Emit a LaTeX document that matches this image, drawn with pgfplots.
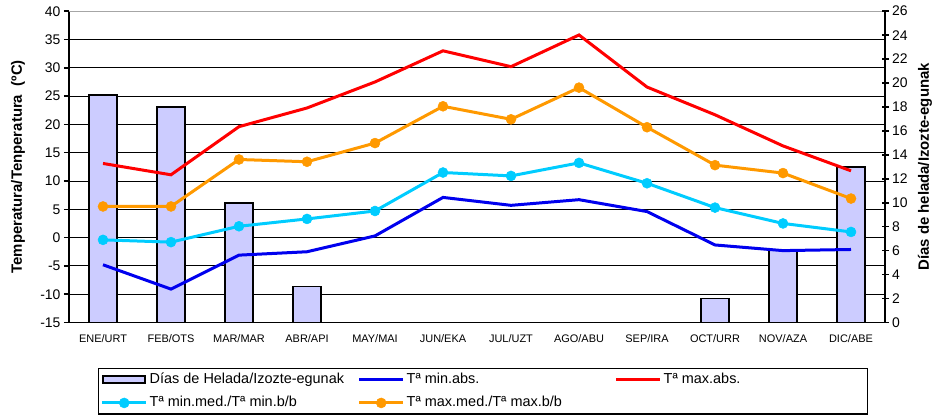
\documentclass[border=0pt]{standalone}
\usepackage{fontspec}
\setmainfont{Liberation Sans}
\usepackage{pgfplots}
\usepackage{pgfplotstable}
\pgfplotsset{compat=1.18}

\definecolor{barfill}{HTML}{CCCCFF}
\definecolor{minabs}{HTML}{0000EE}
\definecolor{maxabs}{HTML}{FF0000}
\definecolor{minmed}{HTML}{00CCFF}
\definecolor{maxmed}{HTML}{FF9900}

% m: mes (0 = ENE ... 11 = DIC)
\pgfplotstableread{
m minabs maxabs minmed maxmed helada
0  -4.8  13.1  -0.4   5.5  19
1  -9.1  11.1  -0.8   5.5  18
2  -3.1  19.6   2.0  13.8  10
3  -2.5  22.9   3.3  13.4   3
4   0.3  27.5   4.7  16.7   0
5   7.1  33.0  11.5  23.2   0
6   5.7  30.2  10.9  20.9   0
7   6.7  35.8  13.2  26.5   0
8   4.6  26.6   9.6  19.5   0
9  -1.3  21.7   5.3  12.8   2
10 -2.3  16.2   2.5  11.4   6
11 -2.1  11.8   1.0   6.9  13
}\datos

\begin{document}
\begin{tikzpicture}
\path[use as bounding box] (0,0) rectangle (936bp,419bp);
\pgfplotsset{
  base/.style={
    at={(69bp,96.5bp)}, anchor=south west,
    scale only axis, width=816bp, height=311.3bp,
    xmin=-0.5, xmax=11.5,
    /pgf/number format/assume math mode=true,
    tick label style={font=\fontsize{14}{16}\selectfont},
  },
}

% eje izquierdo: rejilla, meses
\begin{axis}[base,
  ymin=-15, ymax=40, ytick={-15,-10,...,40},
  axis x line*=bottom, axis y line*=left,
  axis line style={line width=1.5bp, -},
  tick align=outside,
  major tick length=5bp, minor tick length=5bp,
  tick style={black, line width=1.5bp},
  ymajorgrids, grid style={black, line width=1bp},
  xtick={0,...,11},
  xticklabels={ENE/URT,FEB/OTS,MAR/MAR,ABR/API,MAY/MAI,JUN/EKA,JUL/UZT,AGO/ABU,SEP/IRA,OCT/URR,NOV/AZA,DIC/ABE},
  x tick label style={font=\fontsize{11}{13}\selectfont, yshift=-4bp},
  xtick style={draw=none},
  minor xtick={0.5,1.5,...,10.5},
  minor x tick style={black, line width=1.5bp},
  ylabel={Temperatura/Tenperatura\ \ (ºC)},
  ylabel style={font=\fontsize{15}{17}\selectfont\bfseries,
    at={(axis description cs:-0.0625,0.5)}, anchor=center},
]
\draw[gray!70, line width=1.5bp] (rel axis cs:0,1) -- (rel axis cs:1,1);
\end{axis}

% eje derecho: días de helada
\begin{axis}[base,
  ymin=0, ymax=26, ytick={0,2,...,26},
  axis y line*=right, axis x line=none,
  axis line style={line width=1.5bp, -},
  tick align=center, major tick length=7bp,
  tick style={black, line width=1.5bp},
  ylabel={Días de helada/Izozte-egunak},
  ylabel style={font=\fontsize{15}{17}\selectfont\bfseries,
    at={(axis description cs:1.049,0.5)}, anchor=center},
]
\addplot[ybar, bar width=28bp, fill=barfill, draw=black, line width=1.5bp]
  table[x=m, y=helada] {\datos};
\end{axis}

% temperaturas
\begin{axis}[base,
  ymin=-15, ymax=40, hide axis,
  legend columns=3,
  legend cell align=left,
  legend style={
    at={(axis description cs:0.0355,-0.146)}, anchor=north west,
    draw=black, line width=1.5bp, inner sep=2bp,
    font=\fontsize{14.5}{17}\selectfont,
    nodes={inner xsep=2bp, inner ysep=2bp, text height=11bp, text depth=3.5bp},
    row sep=4.5bp,
    /tikz/every even column/.append style={column sep=6bp},
  },
  legend image code/.code={
    \draw[mark repeat=2, mark phase=2, #1] plot coordinates {(0bp,0bp) (22bp,0bp) (44bp,0bp)};
  },
]
\addlegendimage{legend image code/.code={
    \draw[fill=barfill, draw=black, line width=1.5bp] (1bp,-3bp) rectangle (43bp,4bp);}}
\addlegendentry{\makebox[200bp][l]{Días de Helada/Izozte-egunak}}

\addplot[minabs, line width=3bp] table[x=m, y=minabs] {\datos};
\addlegendentry{\makebox[200bp][l]{Tª min.abs.}}

\addplot[maxabs, line width=3bp] table[x=m, y=maxabs] {\datos};
\addlegendentry{\makebox[200bp][l]{Tª max.abs.}}

\addplot[minmed, line width=3bp, mark=*, mark size=5bp,
  mark options={fill=minmed, draw=minmed, line width=0.5bp}]
  table[x=m, y=minmed] {\datos};
\addlegendentry{\makebox[200bp][l]{Tª min.med./Tª min.b/b}}

\addplot[maxmed, line width=3bp, mark=*, mark size=5bp,
  mark options={fill=maxmed, draw=maxmed, line width=0.5bp}]
  table[x=m, y=maxmed] {\datos};
\addlegendentry{\makebox[200bp][l]{Tª max.med./Tª max.b/b}}
\end{axis}
\end{tikzpicture}
\end{document}
